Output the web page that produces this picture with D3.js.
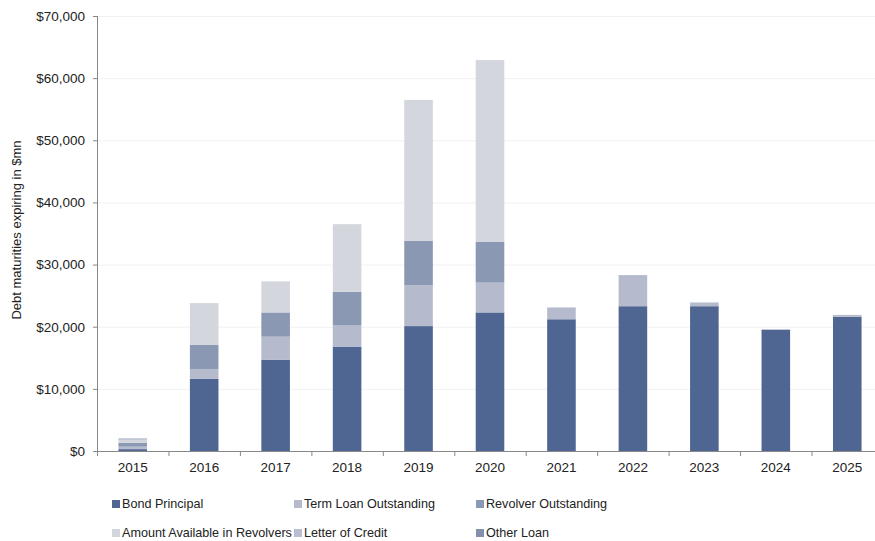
<!DOCTYPE html>
<html>
<head>
<meta charset="utf-8">
<script src="https://cdn.jsdelivr.net/npm/d3@7"></script>
<style>
  body { margin: 0; background: #fff; }
  svg { font-family: "Liberation Sans", Arial, sans-serif; }
</style>
</head>
<body>
<svg width="875" height="541"></svg>
<script>
// years on the x axis
const years = ["2015", "2016", "2017", "2018", "2019", "2020", "2021", "2022", "2023", "2024", "2025"]

// series values in $mn
const bondPrincipal = [300, 11600, 14700, 16800, 20100, 22300, 21200, 23300, 23300, 19500, 21600]
const termLoan = [400, 1600, 3700, 3400, 6600, 4800, 1900, 4800, 600, 100, 300]
const revolverOutstanding = [600, 3900, 3900, 5400, 7100, 6600, 0, 0, 0, 0, 0]
const amountAvailable = [500, 6700, 5000, 10900, 22700, 29200, 0, 0, 0, 0, 0]
const letterOfCredit = [100, 0, 0, 0, 0, 0, 0, 0, 0, 0, 0]
const otherLoan = [100, 0, 0, 0, 0, 0, 0, 150, 0, 0, 0]

const seriesNames = ["Bond Principal", "Term Loan Outstanding", "Revolver Outstanding",
  "Amount Available in Revolvers", "Letter of Credit", "Other Loan"]
const seriesColors = ["#4f6592", "#b5bbcd", "#8a98b3", "#d4d6dd", "#b9bfd0", "#8390ad"]

const yTicks = [0, 10000, 20000, 30000, 40000, 50000, 60000, 70000]

const rows = years.map((y, i) => ({
  year: y,
  "Bond Principal": bondPrincipal[i],
  "Term Loan Outstanding": termLoan[i],
  "Revolver Outstanding": revolverOutstanding[i],
  "Amount Available in Revolvers": amountAvailable[i],
  "Letter of Credit": letterOfCredit[i],
  "Other Loan": otherLoan[i],
}))

const svg = d3.select("svg")
const plotLeft = 97, plotRight = 883, plotTop = 16, plotBottom = 451

const x = d3.scaleBand().domain(years).range([plotLeft, plotRight]).paddingInner(0.6).paddingOuter(0.3)
const xTicks = d3.scaleBand().domain(years).range([plotLeft, plotRight])
const y = d3.scaleLinear().domain([0, 70000]).range([plotBottom, plotTop])

// faint gridlines
svg.append("g")
  .selectAll("line")
  .data(yTicks.slice(1))
  .enter()
  .append("line")
  .attr("x1", plotLeft)
  .attr("x2", 875)
  .attr("y1", (d) => y(d) + 0.5)
  .attr("y2", (d) => y(d) + 0.5)
  .attr("stroke", "#f1f1f3")

const stack = d3.stack().keys(seriesNames)(rows)

svg.append("g")
  .selectAll("g")
  .data(stack)
  .enter()
  .append("g")
  .attr("fill", (d, i) => seriesColors[i])
  .selectAll("rect")
  .data((d) => d)
  .enter()
  .append("rect")
  .attr("x", (d) => x(d.data.year))
  .attr("width", x.bandwidth())
  .attr("y", (d) => y(d[1]))
  .attr("height", (d) => y(d[0]) - y(d[1]))

// y axis
const yAxis = svg.append("g")
  .attr("transform", "translate(" + plotLeft + ",0)")
  .call(d3.axisLeft(y).tickValues(yTicks).tickSize(4).tickFormat((d) => "$" + d3.format(",")(d)))
yAxis.selectAll("text").attr("font-size", 13.5).attr("fill", "#222").attr("x", -12)
yAxis.selectAll("line, path").attr("stroke", "#888")
yAxis.select("path").attr("d", "M0.5," + plotTop + "V" + (plotBottom + 0.5))

// x axis, ticks sit between the bars
const xAxis = svg.append("g").attr("transform", "translate(0," + plotBottom + ")")
xAxis.append("line")
  .attr("x1", plotLeft - 4).attr("x2", 875)
  .attr("y1", 0.5).attr("y2", 0.5)
  .attr("stroke", "#888")
xAxis.selectAll(".tk")
  .data(years)
  .enter()
  .append("line")
  .attr("class", "tk")
  .attr("x1", (d) => xTicks(d) + 0.5)
  .attr("x2", (d) => xTicks(d) + 0.5)
  .attr("y1", 0).attr("y2", 5)
  .attr("stroke", "#888")
xAxis.selectAll(".lbl")
  .data(years)
  .enter()
  .append("text")
  .attr("class", "lbl")
  .attr("x", (d) => x(d) + x.bandwidth() / 2)
  .attr("y", 21)
  .attr("text-anchor", "middle")
  .attr("font-size", 13.5)
  .attr("fill", "#222")
  .text((d) => d)

svg.append("text")
  .attr("transform", "translate(21,230) rotate(-90)")
  .attr("text-anchor", "middle")
  .attr("font-size", 13)
  .attr("fill", "#222")
  .text("Debt maturities expiring in $mn")

// legend, three columns
const legendX = [112, 294, 476]
const legendY = [504, 533]
const legend = svg.append("g")
  .selectAll("g")
  .data(seriesNames)
  .enter()
  .append("g")
  .attr("transform", (d, i) => "translate(" + legendX[i % 3] + "," + legendY[Math.floor(i / 3)] + ")")
legend.append("rect")
  .attr("x", 0).attr("y", -4)
  .attr("width", 8).attr("height", 8)
  .attr("fill", (d, i) => seriesColors[i])
legend.append("text")
  .attr("x", 10).attr("y", 0)
  .attr("dy", "0.35em")
  .attr("font-size", 12.6)
  .attr("fill", "#222")
  .text((d) => d)
</script>
</body>
</html>
